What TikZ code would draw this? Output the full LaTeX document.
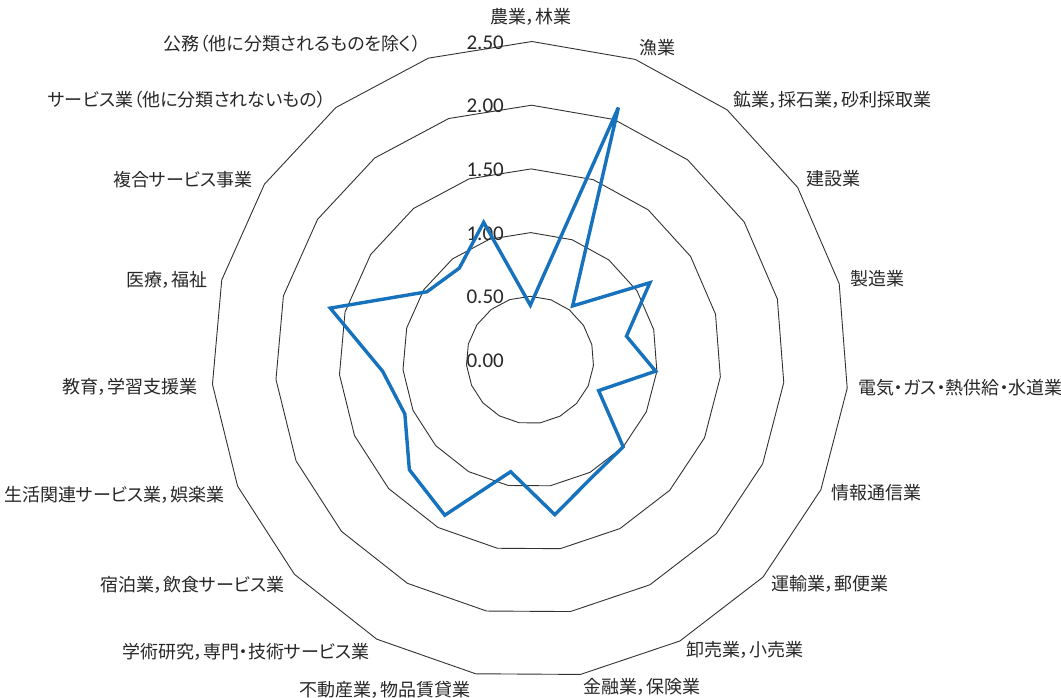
\documentclass[tikz,border=0pt]{standalone}
\usepackage{fontspec}
\setmainfont[RawFeature=+palt]{Noto Sans CJK JP}
\newfontfamily\numfont{Carlito}
\definecolor{serieblue}{RGB}{22,114,188}
\definecolor{gridgray}{RGB}{50,50,50}
\definecolor{labelgray}{RGB}{40,40,40}
\begin{document}
\begin{tikzpicture}[x=1pt,y=1pt,
  ring/.style={draw=gridgray, line width=0.9pt, line join=miter},
  series/.style={draw=serieblue, line width=3.4pt, line join=miter},
  cat/.style={font=\fontsize{18}{21}\selectfont, inner sep=0pt, text=labelgray, text height=15.3pt, text depth=1.8pt},
  tick/.style={font=\numfont\fontsize{21}{24}\selectfont, anchor=base east, inner sep=0pt, text=labelgray}]
\fill[white] (0,0) rectangle (1061,698);
\useasboundingbox (0,0) rectangle (1061,698);
\coordinate (O) at (530,338);
\begin{scope}[shift={(530,338)}, rotate=-0.35]
  \foreach \r in {0.5,1,1.5,2,2.5} {
    \draw[ring] (90:{\r*127.4}) \foreach \k in {1,...,18} { -- ({90-\k*360/19}:{\r*127.4}) } -- cycle;
  }
\end{scope}
% tick labels
\foreach \v/\t in {0/0.00,0.5/0.50,1/1.00,1.5/1.50,2/2.00,2.5/2.50}
  \node[tick] (t\t) at (504,{338+\v*127.4-7.6}) {\t};
% data points
\begin{scope}[shift={(530,338)}, rotate=-0.35]
  \foreach \v [count=\k from 0] in {0.43,2.10,0.54,1.12,0.78,0.99,0.59,1.00,1.04,1.23,0.89,1.39,1.28,1.07,1.16,1.62,0.97,0.91,1.14}
    \coordinate (d\k) at ({90-\k*360/19}:{\v*127.4});
\end{scope}
\draw[series] (d0) -- (d1) -- (d2) -- (d3) -- (d4) -- (d5) -- (d6) -- (d7) -- (d8) -- (d9) -- (d10) -- (d11) -- (d12) -- (d13) -- (d14) -- (d15) -- (d16) -- (d17) -- (d18) -- cycle;
% category labels
\node[cat] (l0) at (531,681) {農業，林業};
\node[cat, anchor=west] (l1) at (639,650) {漁業};
\node[cat, anchor=west] (l2) at (733,598.5) {鉱業，採石業，砂利採取業};
\node[cat, anchor=west] (l3) at (806.5,519) {建設業};
\node[cat, anchor=west] (l4) at (850,419) {製造業};
\node[cat, anchor=west] (l5) at (858,310) {電気・ガス・熱供給・水道業};
\node[cat, anchor=west] (l6) at (831.5,205) {情報通信業};
\node[cat, anchor=west] (l7) at (771.5,114) {運輸業，郵便業};
\node[cat, anchor=west] (l8) at (686,48) {卸売業，小売業};
\node[cat, anchor=west] (l9) at (583,11) {金融業，保険業};
\node[cat, anchor=east] (l10) at (471,8) {不動産業，物品賃貸業};
\node[cat, anchor=east] (l11) at (370,46) {学術研究，専門・技術サービス業};
\node[cat, anchor=east] (l12) at (285,113) {宿泊業，飲食サービス業};
\node[cat, anchor=east] (l13) at (225,203) {生活関連サービス業，娯楽業};
\node[cat, anchor=east] (l14) at (198,311) {教育，学習支援業};
\node[cat, anchor=east] (l15) at (208,418) {医療，福祉};
\node[cat, anchor=east] (l16) at (253,518) {複合サービス事業};
\node[cat, anchor=east] (l17) at (326,598.5) {サービス業（他に分類されないもの）};
\node[cat, anchor=east] (l18) at (421,654) {公務（他に分類されるものを除く）};
\end{tikzpicture}
\end{document}
